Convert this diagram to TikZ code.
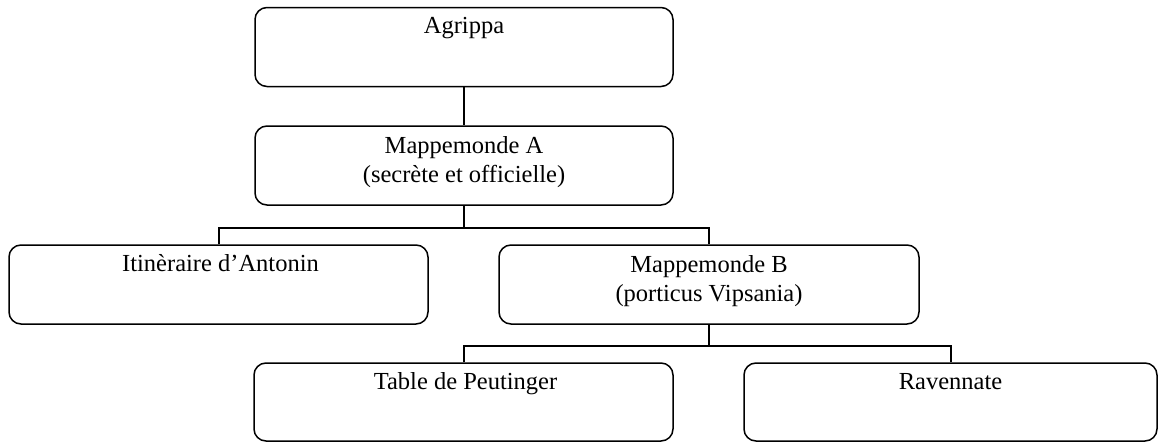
\documentclass[tikz,border=0pt]{standalone}
\usepackage{fontspec}
\setmainfont{Liberation Serif}
\usetikzlibrary{calc}
\begin{document}
\begin{tikzpicture}[x=1pt,y=-1pt,
  box/.style={draw, line width=1.5pt, rounded corners=12pt, inner sep=0pt, minimum height=79pt},
  txt/.style={anchor=base, align=center, inner sep=0pt, font=\fontsize{24.5pt}{29.5pt}\selectfont},
  conn/.style={draw, line width=2pt}]
\useasboundingbox (0,0) rectangle (1160,442);
% boxes
\node[box, minimum width=418pt] (ag) at (464,47) {};
\node[box, minimum width=418pt] (ma) at (464,165.5) {};
\node[box, minimum width=419pt] (it) at (218.5,284.5) {};
\node[box, minimum width=420pt] (mb) at (709,284.5) {};
\node[box, minimum width=419pt, minimum height=78pt] (tp) at (463.5,402) {};
\node[box, minimum width=413pt, minimum height=78pt] (rv) at (950.5,402) {};
% texts (base of a two-line node is its last line)
\node[txt] (agt) at ($(ag.north)+(0,27)$) {Agrippa};
\node[txt] (mat) at ($(ma.north)+(0,57.5)$) {Mappemonde A\\(secrète et officielle)};
\node[txt] (itt) at ($(it.north)+(2,27.5)$) {Itinèraire d’Antonin};
\node[txt] (mbt) at ($(mb.north)+(0,57.5)$) {Mappemonde B\\(porticus Vipsania)};
\node[txt] (tpt) at ($(tp.north)+(2,27.5)$) {Table de Peutinger};
\node[txt] (rvt) at ($(rv.north)+(0,27.5)$) {Ravennate};
% connectors
\draw[conn] (ag.south) -- (ma.north);
\coordinate (j1) at ($(ma.south)+(0,22)$);
\draw[conn] (ma.south) -- (j1);
\draw[conn] (it.north) |- (j1) -| (mb.north);
\coordinate (j2) at ($(mb.south)+(0,21)$);
\draw[conn] (mb.south) -- (j2);
\draw[conn] (tp.north) |- (j2) -| (rv.north);
\end{tikzpicture}
\end{document}
